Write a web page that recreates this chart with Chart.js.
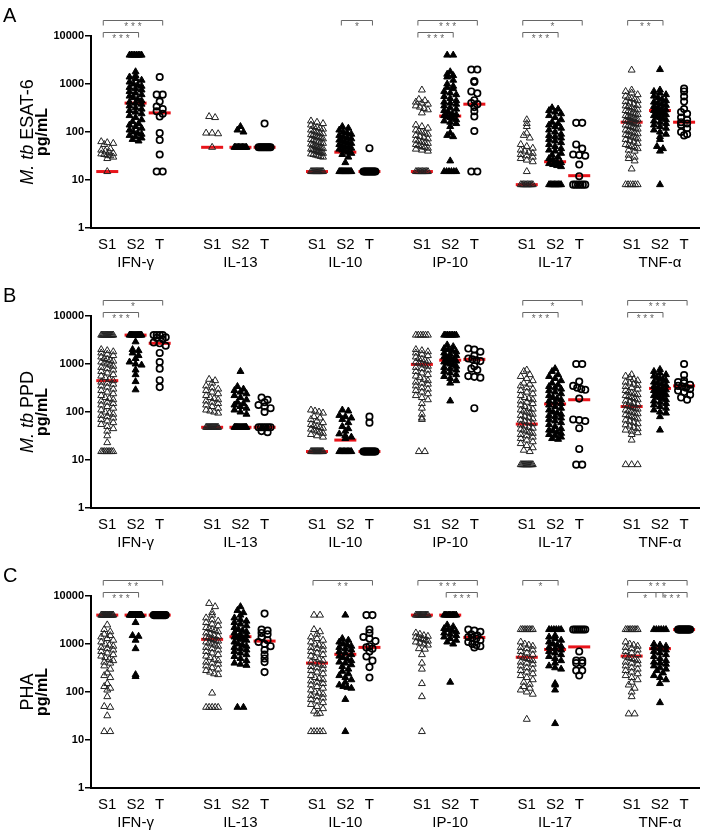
<!DOCTYPE html>
<html>
<head>
<meta charset="utf-8">
<script src="https://cdn.jsdelivr.net/npm/chart.js@4.4.1/dist/chart.umd.min.js"></script>
<style>
  body { margin: 0; background: #fff; }
  .panel { position: absolute; left: 0; width: 705px; }
</style>
</head>
<body>
<div class="panel" style="top:0;height:280px"><canvas id="chartA"></canvas></div>
<div class="panel" style="top:280px;height:280px"><canvas id="chartB"></canvas></div>
<div class="panel" style="top:560px;height:276px"><canvas id="chartC"></canvas></div>
<script>
var cytokines = ['IFN-γ', 'IL-13', 'IL-10', 'IP-10', 'IL-17', 'TNF-α'];
var groups = ['S1', 'S2', 'T'];
var yTicks = [1, 10, 100, 1000, 10000];

// A: M. tb ESAT-6 (pg/mL), one list per cytokine
var esatS1 = [
    [63, 60, 58, 55, 45, 42, 40, 38, 36, 35, 34, 33, 32, 30, 28, 15],
    [210, 200, 95, 95, 92, 48],
    [170, 160, 150, 140, 130, 125, 120, 115, 110, 105, 100, 95, 92, 88, 85, 82, 80, 78, 75, 72, 70, 68, 65, 62, 60, 58, 56, 54, 52, 50, 48, 47, 46, 45, 44, 43, 42, 41, 40, 39, 38, 37, 36, 35, 34, 33, 32, 31, 30, 15, 15, 15, 15, 15, 15, 15, 15, 15, 15, 15, 15],
    [750, 480, 450, 420, 400, 380, 350, 330, 310, 290, 250, 140, 130, 120, 110, 105, 100, 95, 90, 85, 80, 76, 72, 68, 65, 62, 60, 58, 55, 52, 50, 48, 46, 44, 42, 40, 15, 15, 15, 15, 15, 15, 15, 15, 15, 15],
    [180, 150, 130, 95, 85, 75, 55, 50, 46, 42, 40, 38, 36, 34, 32, 30, 28, 26, 24, 15, 8, 8, 8, 8, 8, 8, 8, 8, 8, 8],
    [1950, 750, 700, 650, 600, 560, 520, 500, 480, 450, 430, 400, 380, 360, 350, 340, 320, 300, 290, 280, 270, 260, 250, 240, 230, 220, 210, 200, 195, 190, 185, 180, 175, 170, 165, 160, 155, 150, 145, 140, 135, 130, 125, 120, 115, 110, 105, 100, 96, 92, 88, 85, 82, 78, 75, 72, 70, 66, 62, 58, 55, 52, 50, 48, 45, 42, 40, 33, 30, 28, 25, 17, 8, 8, 8, 8, 8, 8]
];
var esatS2 = [
    [4000, 4000, 4000, 4000, 4000, 4000, 4000, 4000, 1800, 1500, 1400, 1300, 1200, 1100, 1000, 950, 900, 850, 800, 750, 700, 650, 600, 560, 520, 480, 450, 420, 400, 380, 350, 320, 300, 280, 260, 240, 220, 200, 180, 165, 150, 140, 130, 120, 110, 100, 95, 90, 85, 80, 75, 70, 65],
    [130, 110, 100, 48, 48, 48, 48, 48, 48, 48, 48, 48, 48],
    [130, 120, 110, 100, 95, 90, 85, 80, 75, 72, 68, 65, 62, 60, 58, 55, 52, 50, 48, 46, 44, 42, 40, 38, 36, 34, 30, 23, 15, 15, 15, 15, 15, 15, 15, 15, 15, 15, 15, 15],
    [4000, 4000, 1800, 1600, 1500, 1400, 1200, 1000, 900, 850, 800, 700, 650, 600, 550, 500, 450, 420, 400, 380, 350, 320, 300, 280, 260, 240, 230, 220, 210, 200, 190, 180, 170, 160, 150, 130, 95, 85, 80, 25, 15, 15, 15, 15, 15, 15],
    [320, 300, 280, 260, 240, 220, 200, 180, 160, 150, 140, 130, 120, 110, 100, 90, 85, 80, 75, 70, 65, 60, 55, 50, 45, 42, 40, 36, 33, 30, 28, 26, 24, 23, 22, 21, 20, 19, 8, 8, 8, 8, 8, 8, 8, 8, 8, 8],
    [2000, 750, 700, 650, 600, 560, 520, 480, 450, 420, 400, 380, 360, 340, 320, 300, 290, 280, 270, 260, 250, 240, 230, 220, 210, 200, 190, 180, 170, 160, 150, 140, 130, 120, 110, 100, 90, 80, 70, 50, 45, 40, 8]
];
var esatT = [
    [1400, 600, 600, 430, 340, 300, 270, 240, 210, 95, 68, 34, 15, 15],
    [150, 48, 48, 48, 48, 48, 48, 48, 48, 48, 48],
    [46, 15, 15, 15, 15, 15, 15, 15, 15, 15, 15, 15, 15],
    [2000, 2000, 1150, 1100, 700, 640, 460, 400, 380, 330, 270, 210, 105, 15, 15],
    [155, 155, 55, 45, 34, 33, 32, 21, 12, 8, 8, 8, 8, 8, 8],
    [800, 700, 550, 430, 300, 260, 240, 200, 180, 160, 150, 140, 120, 100, 90, 85]
];
var esatMedS1 = [15, 48, 15, 15, 8, 160];
var esatMedS2 = [400, 48, 38, 215, 24, 280];
var esatMedT = [250, 48, 15, 380, 12.3, 160];
// [cytokine, from group, to group, level, stars]
var esatSig = [[0, 0, 2, 0, '* * *'], [0, 0, 1, 1, '* * *'], [2, 1, 2, 0, '*'],
    [3, 0, 2, 0, '* * *'], [3, 0, 1, 1, '* * *'], [4, 0, 2, 0, '*'], [4, 0, 1, 1, '* * *'],
    [5, 0, 1, 0, '* *']];

// B: M. tb PPD
var ppdS1 = [
    [4000, 4000, 4000, 4000, 4000, 4000, 4000, 4000, 4000, 4000, 4000, 4000, 4000, 4000, 2000, 1900, 1800, 1700, 1600, 1500, 1400, 1300, 1250, 1200, 1150, 1100, 1050, 1000, 950, 900, 850, 800, 750, 700, 650, 600, 560, 520, 480, 450, 420, 400, 380, 350, 330, 300, 280, 260, 240, 220, 200, 190, 180, 170, 160, 150, 140, 130, 120, 110, 100, 95, 90, 85, 80, 75, 70, 65, 60, 55, 50, 45, 40, 32, 23, 15, 15, 15, 15, 15, 15, 15, 15],
    [480, 450, 400, 350, 320, 300, 280, 260, 240, 220, 200, 190, 180, 170, 160, 150, 140, 130, 120, 110, 105, 100, 95, 48, 48, 48, 48, 48, 48, 48, 48, 48, 48, 48, 48, 48, 48],
    [110, 105, 100, 95, 80, 75, 70, 65, 60, 55, 52, 50, 48, 46, 44, 42, 40, 38, 36, 34, 32, 30, 15, 15, 15, 15, 15, 15, 15, 15, 15, 15, 15, 15, 15, 15],
    [4000, 4000, 4000, 4000, 4000, 4000, 2000, 1900, 1800, 1700, 1600, 1500, 1400, 1300, 1250, 1200, 1150, 1100, 1050, 1000, 950, 900, 850, 800, 750, 700, 650, 600, 560, 520, 480, 450, 420, 400, 380, 350, 320, 300, 280, 260, 240, 220, 200, 180, 150, 120, 90, 75, 70, 15, 15],
    [750, 700, 600, 550, 500, 450, 400, 380, 350, 320, 300, 280, 260, 240, 220, 200, 190, 180, 170, 160, 150, 140, 130, 120, 115, 110, 105, 100, 95, 90, 85, 80, 76, 72, 68, 64, 60, 57, 54, 51, 48, 46, 44, 42, 40, 38, 36, 34, 32, 30, 28, 26, 24, 22, 20, 18, 16, 15, 8, 8, 8, 8, 8, 8, 8, 8, 8, 8, 8, 8],
    [600, 560, 520, 480, 450, 420, 400, 380, 360, 340, 320, 300, 280, 260, 250, 240, 230, 220, 210, 200, 190, 180, 170, 160, 150, 145, 140, 135, 130, 125, 120, 115, 110, 105, 100, 96, 92, 88, 84, 80, 76, 72, 68, 64, 60, 57, 54, 51, 48, 45, 42, 40, 37, 34, 26, 8, 8, 8]
];
var ppdS2 = [
    [4000, 4000, 4000, 4000, 4000, 4000, 4000, 4000, 4000, 4000, 4000, 4000, 2900, 2000, 1900, 1700, 1500, 1300, 1100, 1000, 950, 750, 600, 430, 290],
    [700, 340, 300, 280, 260, 240, 220, 200, 180, 160, 150, 140, 130, 120, 110, 100, 90, 48, 48, 48, 48, 48, 48, 48, 48, 48, 48, 48, 48],
    [110, 105, 85, 80, 75, 70, 60, 50, 45, 40, 35, 32, 30, 28, 15, 15, 15, 15, 15, 15, 15, 15, 15, 15],
    [4000, 4000, 4000, 4000, 4000, 4000, 4000, 4000, 2500, 2300, 2100, 2000, 1900, 1800, 1700, 1600, 1500, 1400, 1350, 1300, 1250, 1200, 1150, 1100, 1050, 1000, 950, 900, 850, 800, 750, 700, 650, 600, 550, 500, 450, 400, 170],
    [800, 700, 600, 550, 500, 450, 400, 370, 340, 320, 300, 280, 260, 240, 220, 200, 190, 180, 170, 160, 150, 140, 130, 120, 110, 100, 95, 90, 85, 80, 75, 70, 65, 60, 55, 50, 45, 42, 40, 38, 36, 34, 32, 30, 28, 27],
    [770, 700, 650, 600, 560, 520, 500, 480, 450, 420, 400, 380, 360, 340, 320, 300, 290, 280, 270, 260, 250, 240, 230, 220, 210, 200, 190, 180, 170, 160, 150, 140, 130, 120, 110, 100, 95, 80, 42]
];
var ppdT = [
    [4000, 4000, 4000, 4000, 3600, 3500, 3300, 2800, 2700, 2400, 1700, 1100, 800, 460, 330],
    [200, 180, 160, 140, 130, 120, 100, 48, 48, 48, 48, 48, 48, 40, 38],
    [80, 60, 15, 15, 15, 15, 15, 15, 15, 15, 15, 15, 15, 15],
    [2100, 2000, 1800, 1500, 1300, 1250, 1200, 1150, 900, 800, 750, 560, 540, 520, 120],
    [1000, 1000, 430, 350, 320, 300, 290, 190, 70, 68, 65, 46, 17, 8, 8],
    [1000, 590, 450, 420, 400, 370, 350, 340, 320, 300, 280, 260, 230, 200, 180]
];
var ppdMedS1 = [450, 48, 15, 980, 56, 130];
var ppdMedS2 = [4000, 48, 26, 1200, 147, 310];
var ppdMedT = [2700, 48, 15, 1250, 180, 350];
var ppdSig = [[0, 0, 2, 0, '*'], [0, 0, 1, 1, '* * *'], [4, 0, 2, 0, '*'], [4, 0, 1, 1, '* * *'],
    [5, 0, 2, 0, '* * *'], [5, 0, 1, 1, '* * *']];

// C: PHA
var phaS1 = [
    [4000, 4000, 4000, 4000, 4000, 4000, 4000, 4000, 4000, 4000, 4000, 4000, 4000, 4000, 4000, 4000, 2500, 2000, 1800, 1600, 1500, 1400, 1300, 1200, 1100, 1000, 950, 900, 850, 800, 750, 700, 650, 600, 560, 520, 480, 450, 420, 400, 350, 300, 250, 220, 200, 150, 130, 120, 110, 80, 50, 48, 32, 15, 15],
    [7000, 6000, 4500, 4000, 3500, 3200, 3000, 2800, 2600, 2400, 2200, 2100, 2000, 1900, 1800, 1700, 1600, 1500, 1450, 1400, 1350, 1300, 1250, 1200, 1150, 1100, 1050, 1000, 950, 900, 850, 800, 750, 700, 650, 600, 560, 520, 480, 450, 420, 400, 380, 350, 320, 300, 280, 260, 240, 230, 95, 48, 48, 48, 48, 48],
    [4000, 4000, 2000, 1800, 1600, 1400, 1300, 1200, 1100, 1000, 950, 900, 850, 800, 750, 700, 650, 600, 560, 520, 480, 450, 420, 400, 380, 360, 340, 320, 300, 280, 260, 240, 220, 200, 190, 180, 170, 160, 150, 140, 130, 120, 110, 100, 95, 90, 85, 80, 75, 70, 65, 60, 55, 50, 45, 40, 36, 35, 15, 15, 15, 15, 15],
    [4000, 4000, 4000, 4000, 4000, 4000, 4000, 4000, 4000, 4000, 4000, 4000, 1700, 1600, 1500, 1450, 1400, 1350, 1300, 1250, 1200, 1150, 1100, 1050, 1000, 950, 800, 780, 600, 400, 300, 150, 80, 15],
    [2000, 2000, 2000, 2000, 2000, 2000, 2000, 2000, 1100, 1000, 950, 900, 850, 800, 750, 700, 650, 600, 560, 520, 500, 480, 450, 420, 400, 380, 350, 320, 300, 280, 260, 240, 220, 200, 180, 160, 145, 130, 120, 110, 100, 90, 27],
    [2000, 2000, 2000, 2000, 2000, 2000, 2000, 2000, 1100, 1000, 950, 900, 850, 800, 750, 700, 650, 600, 560, 520, 500, 480, 450, 420, 400, 380, 350, 320, 300, 280, 260, 240, 220, 200, 180, 160, 140, 120, 100, 80, 35, 35]
];
var phaS2 = [
    [4000, 4000, 4000, 4000, 4000, 4000, 4000, 4000, 4000, 4000, 4000, 4000, 4000, 4000, 4000, 4000, 4000, 4000, 4000, 4000, 2800, 1500, 1450, 1200, 800, 230, 210],
    [6000, 5000, 4500, 4000, 3500, 3200, 3000, 2800, 2600, 2400, 2200, 2000, 1900, 1800, 1700, 1600, 1500, 1400, 1350, 1300, 1250, 1200, 1100, 1000, 950, 900, 850, 800, 750, 700, 650, 600, 550, 500, 450, 400, 380, 360, 48, 48],
    [4000, 1300, 1200, 1100, 1000, 950, 900, 850, 800, 750, 700, 650, 600, 560, 520, 480, 450, 420, 400, 370, 340, 300, 270, 240, 220, 200, 180, 160, 140, 130, 125, 120, 70, 15],
    [4000, 4000, 4000, 4000, 4000, 4000, 4000, 4000, 4000, 4000, 2500, 2300, 2100, 2000, 1900, 1800, 1700, 1600, 1500, 1400, 1300, 1200, 1100, 1000, 160],
    [2000, 2000, 2000, 2000, 2000, 2000, 1500, 1400, 1300, 1200, 1100, 1000, 950, 900, 850, 800, 750, 700, 650, 600, 550, 500, 450, 400, 350, 320, 300, 150, 140, 110, 22],
    [2000, 2000, 2000, 2000, 2000, 2000, 1000, 950, 900, 850, 800, 750, 700, 650, 600, 550, 500, 450, 420, 400, 380, 350, 320, 300, 280, 250, 220, 200, 180, 150, 60]
];
var phaT = [
    [4000, 4000, 4000, 4000, 4000, 4000, 4000, 4000, 4000, 4000, 4000, 4000, 4000, 4000, 4000],
    [4300, 2000, 1900, 1700, 1600, 1400, 1200, 1100, 1000, 900, 750, 600, 500, 420, 260],
    [4000, 4000, 2000, 1700, 1400, 1300, 1150, 900, 850, 800, 700, 550, 450, 330, 200],
    [2000, 1900, 1800, 1600, 1500, 1400, 1350, 1300, 1200, 1100, 1000, 950, 900, 850],
    [2000, 2000, 2000, 2000, 2000, 2000, 2000, 700, 450, 450, 400, 400, 280, 280, 220],
    [2000, 2000, 2000, 2000, 2000, 2000, 2000, 2000, 2000, 2000, 2000, 2000, 2000, 2000, 2000]
];
var phaMedS1 = [4000, 1250, 400, 4000, 530, 560];
var phaMedS2 = [4000, 1420, 610, 4000, 770, 800];
var phaMedT = [4000, 1150, 850, 1370, 870, 2000];
var phaSig = [[0, 0, 2, 0, '* *'], [0, 0, 1, 1, '* * *'], [2, 0, 2, 0, '* *'],
    [3, 0, 2, 0, '* * *'], [3, 1, 2, 1, '* * *'], [4, 0, 1, 0, '*'],
    [5, 0, 2, 0, '* * *'], [5, 0, 1, 1, '*'], [5, 1, 2, 1, '* * *']];

var FONT = 'Arial, "Liberation Sans", sans-serif';
var slotOffsets = [0.62, 1.7, 2.62];

function slotX(c, g) {
    return 4 * c + slotOffsets[g];
}

// xep cac diem cung muc gia tri thanh hang ngang
function spread(values, center) {
    var rows = {};
    values.forEach(function(v) {
        var k = Math.round(Math.log10(v) / 0.1);
        (rows[k] = rows[k] || []).push(v);
    });
    var pts = [];
    Object.keys(rows).forEach(function(k) {
        var row = rows[k];
        var n = row.length;
        var step = n > 1 ? Math.min(0.23, 0.46 / (n - 1)) : 0;
        row.forEach(function(v, i) {
            pts.push({ x: center + (i - (n - 1) / 2) * step, y: v });
        });
    });
    return pts;
}

var groupStyles = [
    { pointStyle: 'triangle', pointRadius: 4, backgroundColor: 'rgba(255,255,255,0)', borderColor: '#222', borderWidth: 1 },
    { pointStyle: 'triangle', pointRadius: 4, backgroundColor: '#000', borderColor: '#000', borderWidth: 1 },
    { pointStyle: 'circle', pointRadius: 3.2, backgroundColor: 'rgba(255,255,255,0)', borderColor: '#000', borderWidth: 1.7 }
];

var xTickValues = [];
var xTickLabels = [];
cytokines.forEach(function(name, c) {
    groups.forEach(function(g, gi) {
        xTickValues.push(slotX(c, gi));
        xTickLabels.push(gi === 1 ? [g, name] : g);
    });
});

var decorPlugin = {
    id: 'decor',
    beforeDatasetsDraw: function(chart, args, opts) {
        var ctx = chart.ctx, x = chart.scales.x, y = chart.scales.y;
        ctx.save();
        ctx.strokeStyle = '#e8141a';
        ctx.lineWidth = 3;
        opts.medians.forEach(function(list, g) {
            list.forEach(function(m, c) {
                var px = x.getPixelForValue(slotX(c, g));
                var py = y.getPixelForValue(m);
                ctx.beginPath();
                ctx.moveTo(px - 11, py);
                ctx.lineTo(px + 11, py);
                ctx.stroke();
            });
        });
        ctx.restore();
    },
    afterDraw: function(chart, args, opts) {
        var ctx = chart.ctx, x = chart.scales.x, area = chart.chartArea;
        ctx.save();
        // chu cai panel
        ctx.fillStyle = '#000';
        ctx.font = '20px ' + FONT;
        ctx.textBaseline = 'alphabetic';
        ctx.fillText(opts.letter, 3, 22);

        // tieu de truc y
        var cy = (area.top + area.bottom) / 2;
        ctx.save();
        ctx.translate(33, cy);
        ctx.rotate(-Math.PI / 2);
        ctx.font = 'italic 18px ' + FONT;
        var w1 = ctx.measureText(opts.titleItalic).width;
        ctx.font = '18px ' + FONT;
        var w2 = ctx.measureText(opts.titleRest).width;
        var start = -(w1 + w2) / 2;
        ctx.font = 'italic 18px ' + FONT;
        ctx.fillText(opts.titleItalic, start, 0);
        ctx.font = '18px ' + FONT;
        ctx.fillText(opts.titleRest, start + w1, 0);
        ctx.restore();
        ctx.save();
        ctx.translate(47, cy);
        ctx.rotate(-Math.PI / 2);
        ctx.font = 'bold 16px ' + FONT;
        ctx.textAlign = 'center';
        ctx.fillText('pg/mL', 0, 0);
        ctx.restore();

        // dau ngoac y nghia thong ke
        ctx.strokeStyle = '#666';
        ctx.fillStyle = '#666';
        ctx.lineWidth = 1;
        ctx.font = '10px ' + FONT;
        ctx.textAlign = 'center';
        ctx.textBaseline = 'middle';
        opts.brackets.forEach(function(b) {
            var x1 = x.getPixelForValue(slotX(b[0], b[1])) - 4;
            var x2 = x.getPixelForValue(slotX(b[0], b[2])) + 3;
            var by = b[3] === 0 ? 20.5 : 32.5;
            ctx.beginPath();
            ctx.moveTo(x1, by + 5);
            ctx.lineTo(x1, by);
            ctx.lineTo(x2, by);
            ctx.lineTo(x2, by + 5);
            ctx.stroke();
            ctx.fillText(b[4], (x1 + x2) / 2, by + 7);
        });
        ctx.restore();
    }
};

function createPanel(id, s1, s2, t, medians, sig, letter, titleItalic, titleRest, axisHeight) {
    var datasets = [s1, s2, t].map(function(groupData, g) {
        var pts = [];
        groupData.forEach(function(vals, c) {
            pts = pts.concat(spread(vals, slotX(c, g)));
        });
        return Object.assign({ label: groups[g], data: pts }, groupStyles[g]);
    });

    new Chart(document.getElementById(id), {
        type: 'scatter',
        data: { datasets: datasets },
        options: {
            responsive: true,
            maintainAspectRatio: false,
            animation: false,
            layout: { padding: { top: 36, right: 5, left: 0, bottom: 0 } },
            scales: {
                x: {
                    type: 'linear',
                    min: 0,
                    max: 23.2,
                    afterBuildTicks: function(scale) {
                        scale.ticks = xTickValues.map(function(v) { return { value: v }; });
                    },
                    afterFit: function(scale) { scale.height = axisHeight; },
                    grid: { display: false, drawTicks: false },
                    border: { display: true, color: '#000', width: 2 },
                    ticks: {
                        autoSkip: false,
                        maxRotation: 0,
                        minRotation: 0,
                        padding: 8,
                        color: '#000',
                        font: { family: FONT, size: 15, lineHeight: 1.2 },
                        callback: function(value, index) { return xTickLabels[index]; }
                    }
                },
                y: {
                    type: 'logarithmic',
                    min: 1,
                    max: 10000,
                    afterBuildTicks: function(scale) {
                        scale.ticks = yTicks.map(function(v) { return { value: v }; });
                    },
                    afterFit: function(scale) { scale.width = 91; },
                    grid: { display: true, drawOnChartArea: false, drawTicks: true, tickLength: 6, color: '#000', lineWidth: 1.5 },
                    border: { display: true, color: '#000', width: 2 },
                    ticks: {
                        padding: 1,
                        color: '#000',
                        font: { family: FONT, size: 11, weight: 'bold' },
                        callback: function(value) { return String(value); }
                    }
                }
            },
            plugins: {
                legend: { display: false },
                tooltip: { enabled: false },
                decor: {
                    letter: letter,
                    titleItalic: titleItalic,
                    titleRest: titleRest,
                    medians: medians,
                    brackets: sig
                }
            }
        },
        plugins: [decorPlugin]
    });
}

createPanel('chartA', esatS1, esatS2, esatT, [esatMedS1, esatMedS2, esatMedT], esatSig, 'A', 'M. tb', ' ESAT-6', 52);
createPanel('chartB', ppdS1, ppdS2, ppdT, [ppdMedS1, ppdMedS2, ppdMedT], ppdSig, 'B', 'M. tb', ' PPD', 52);
createPanel('chartC', phaS1, phaS2, phaT, [phaMedS1, phaMedS2, phaMedT], phaSig, 'C', '', 'PHA', 48);
</script>
</body>
</html>
